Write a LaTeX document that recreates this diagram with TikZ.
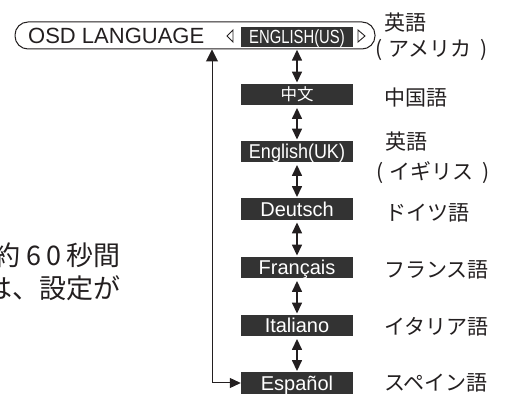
\documentclass[tikz,border=0pt]{standalone}
\usepackage{fontspec}
\setmainfont{Liberation Sans}
\newfontfamily\jpfont{Noto Sans CJK JP}
\newfontfamily\narrowfont[FakeStretch=0.78]{Liberation Sans}
\newfontfamily\semifont[FakeStretch=0.9]{Liberation Sans}
\usetikzlibrary{arrows.meta}
\definecolor{boxgray}{HTML}{333333}
\definecolor{inkgray}{HTML}{231F20}
\tikzset{
  langbox/.style={fill=boxgray, text=white, minimum width=112pt, minimum height=21.5pt,
    inner sep=0pt, text height=14.4pt, text depth=0pt, font=\fontsize{20pt}{24pt}\selectfont},
  jplabel/.style={anchor=base west, inner sep=0pt, text=inkgray,
    font=\jpfont\fontsize{21pt}{27pt}\selectfont},
  updown/.style={{Triangle[width=10pt,length=11pt]}-{Triangle[width=10pt,length=11pt]},
    line width=1.5pt, draw=inkgray, shorten >=1pt, shorten <=2.5pt},
  backline/.style={{Triangle[width=12pt,length=12pt]}-{Triangle[width=10pt,length=11pt]},
    line width=1pt, draw=inkgray},
}
\begin{document}
\begin{tikzpicture}[x=1pt,y=-1pt]
\useasboundingbox (0,0) rectangle (512,398);
% menu line
\node[draw=inkgray, line width=1pt, rounded corners=13pt, minimum width=360pt,
  minimum height=27pt, inner sep=0pt] (osd) at (195,35.5) {};
\node[anchor=west, inner sep=0pt, text=inkgray, font=\fontsize{22pt}{26pt}\selectfont]
  (osdname) at (28,35.5) {OSD LANGUAGE};
\draw[inkgray, line width=0.9pt] (233,30) -- (233,42) -- (227,36) -- cycle;
\draw[inkgray, line width=0.9pt] (358,30) -- (358,42) -- (365,36) -- cycle;
% language boxes
\node[langbox, minimum height=20pt, text height=13.6pt,
  font=\narrowfont\fontsize{19pt}{22pt}\selectfont] (us) at (297,37) {ENGLISH(US)};
\node[langbox, font=\jpfont\fontsize{16.5pt}{18pt}\selectfont, text height=12pt] (zh) at (297,94.5) {中文};
\node[langbox, font=\semifont\fontsize{20pt}{24pt}\selectfont] (uk) at (297,151.5) {English(UK)};
\node[langbox] (de) at (297,209) {Deutsch};
\node[langbox] (fr) at (297,267.5) {Français};
\node[langbox] (it) at (297,325.5) {Italiano};
\node[langbox] (es) at (297,383) {Español};
% arrows
\draw[updown] (us) -- (zh);
\draw[updown] (zh) -- (uk);
\draw[updown] (uk) -- (de);
\draw[updown] (de) -- (fr);
\draw[updown] (fr) -- (it);
\draw[updown] (it) -- (es);
\coordinate (ret) at (212,49.5);
\draw[backline] (ret) |- (es.west);
% names in Japanese
\node[jplabel] (usname) at (384,31) {英語};
\node[jplabel] (usname2) at (375.5,57) {(\hspace{0.25em}アメリカ\hspace{0.45em})};
\node[jplabel] (zhname) at (384,105.5) {中国語};
\node[jplabel] (ukname) at (385,150) {英語};
\node[jplabel] (ukname2) at (376.5,180) {(\hspace{0.25em}イギリス\hspace{0.45em})};
\node[jplabel] (dename) at (385,221) {ドイツ語};
\node[jplabel] (frname) at (384,278) {フランス語};
\node[jplabel] (itname) at (384,335) {イタリア語};
\node[jplabel] (esname) at (384,391) {スペイン語};
% note at left
\node[anchor=east, align=right, inner sep=0pt, text=inkgray,
  font=\jpfont\fontsize{27pt}{33pt}\selectfont] (note) at (121,271.5)
  {約\hspace{6pt}6\hspace{5pt}0\hspace{5pt}秒間\\は、設定が};
\end{tikzpicture}
\end{document}
